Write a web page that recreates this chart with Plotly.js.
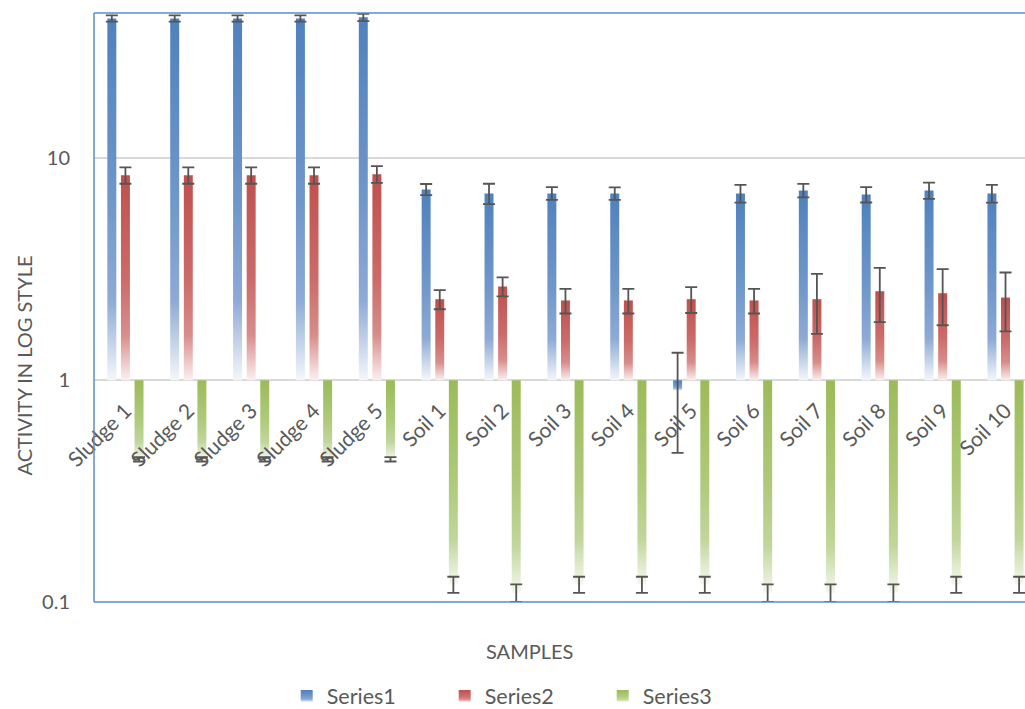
<!DOCTYPE html>
<html><head><meta charset="utf-8">
<script src="https://cdn.plot.ly/plotly-3.0.1.min.js"></script>
<style>html,body{margin:0;padding:0;background:#fff}#chart{width:1025px;height:709px}</style>
</head><body><div id="chart"></div>
<script>
const categories = ['Sludge 1','Sludge 2','Sludge 3','Sludge 4','Sludge 5','Soil 1','Soil 2','Soil 3','Soil 4','Soil 5','Soil 6','Soil 7','Soil 8','Soil 9','Soil 10'];
const series1 = [42.8, 42.8, 42.8, 42.8, 43.3, 7.25, 6.96, 6.96, 6.96, 0.9, 6.96, 7.18, 6.88, 7.18, 6.96];
const err1    = [1.35, 1.35, 1.35, 1.35, 1.65, 0.42, 0.73, 0.46, 0.45, 0.43, 0.64, 0.5, 0.55, 0.6, 0.64];
const series2 = [8.4, 8.4, 8.4, 8.4, 8.5, 2.32, 2.65, 2.29, 2.29, 2.32, 2.29, 2.32, 2.52, 2.47, 2.36];
const err2    = [0.71, 0.71, 0.71, 0.71, 0.73, 0.23, 0.26, 0.29, 0.29, 0.31, 0.29, 0.7, 0.69, 0.7, 0.7];
const series3 = [0.44, 0.44, 0.44, 0.44, 0.44, 0.12, 0.11, 0.12, 0.12, 0.12, 0.11, 0.11, 0.11, 0.12, 0.12];
const err3    = [0.01, 0.01, 0.01, 0.01, 0.01, 0.01, 0.01, 0.01, 0.01, 0.01, 0.01, 0.01, 0.01, 0.01, 0.01];
const seriesNames = ['Series1', 'Series2', 'Series3'];
const yTickVals = [0.1, 1, 10];
const yTickText = ['0.1', '1', '10'];

const baseLine = 1;
const yMin = -1, yMax = 1.656;
const colors = ['#4F81BD', '#C0504D', '#9BBB59'];
const gradStops = [
  [[0, '#4F81BD'], [0.5, '#6F97CA'], [0.78, '#8EAAD5'], [1, '#F4F7FB']],
  [[0, '#C0504D'], [0.5, '#CB6B69'], [0.78, '#D78D8B'], [1, '#FBF0F0']],
  [[0, '#9BBB59'], [0.5, '#AECA7A'], [0.78, '#C1D69C'], [1, '#F5F8EE']]
];
const textColor = '#595959';

function lengths(vals) { return vals.map(v => v - baseLine); }

const data = [series1, series2, series3];
const errs = [err1, err2, err3];
const traces = data.map((vals, i) => ({
  type: 'bar',
  name: seriesNames[i],
  x: categories,
  y: lengths(vals),
  base: baseLine,
  customdata: vals,
  hovertemplate: '%{x}: %{customdata}<extra></extra>',
  marker: { color: colors[i], line: { width: 0 } },
  error_y: { type: 'data', array: errs[i], visible: true, color: '#555555', thickness: 1.8, width: 6 }
}));

const axisPos = (0 - yMin) / (yMax - yMin);
const borderColor = '#5B8BCB';

const layout = {
  width: 1025, height: 709,
  margin: { l: 94, r: 0, t: 13, b: 107 },
  paper_bgcolor: '#ffffff', plot_bgcolor: '#ffffff',
  font: { family: 'Lato, "Open Sans", sans-serif', size: 20, color: textColor },
  barmode: 'group', bargap: 0.351, bargroupgap: 0.34,
  showlegend: true,
  legend: { orientation: 'h', xref: 'container', yref: 'container', x: 0.2797, xanchor: 'left', y: 0.0183, yanchor: 'middle',
            entrywidth: 113, entrywidthmode: 'pixels', font: { size: 21.5, color: textColor }, bgcolor: 'rgba(0,0,0,0)' },
  xaxis: { type: 'category', range: [-0.5, 14.31], anchor: 'free', position: axisPos,
           tickangle: -45, showline: false, showgrid: false, zeroline: false,
           ticks: 'outside', ticklen: 9, tickcolor: 'rgba(0,0,0,0)',
           automargin: false, tickfont: { size: 21, color: textColor } },
  yaxis: { type: 'log', range: [yMin, yMax], tickvals: yTickVals, ticktext: yTickText,
           showgrid: true, gridcolor: '#D9D9D9', gridwidth: 2, showline: false, zeroline: false,
           ticks: 'outside', ticklen: 19, tickcolor: 'rgba(0,0,0,0)', automargin: false,
           tickfont: { size: 20, color: textColor } },
  shapes: [
    { type: 'line', xref: 'paper', yref: 'paper', x0: 0, x1: 0, y0: 0, y1: 1, line: { color: borderColor, width: 1.5 } },
    { type: 'line', xref: 'paper', yref: 'paper', x0: 0, x1: 1, y0: 1, y1: 1, line: { color: borderColor, width: 1.5 } },
    { type: 'line', xref: 'paper', yref: 'paper', x0: 0, x1: 1, y0: 0, y1: 0, line: { color: borderColor, width: 1.5 } }
  ],
  annotations: [
    { text: 'ACTIVITY IN LOG STYLE', xref: 'paper', yref: 'paper', x: -0.0757, y: 0.4007,
      textangle: -90, showarrow: false, font: { size: 20, color: textColor }, xanchor: 'center', yanchor: 'middle' },
    { text: 'SAMPLES', xref: 'paper', yref: 'paper', x: 0.4683, y: -0.0832,
      showarrow: false, font: { size: 20, color: textColor }, xanchor: 'center', yanchor: 'middle' }
  ]
};

function applyGradients(gd) {
  const NS = 'http://www.w3.org/2000/svg';
  const svg = gd.querySelector('svg.main-svg');
  let defs = svg.querySelector('defs');
  if (!defs) { defs = document.createElementNS(NS, 'defs'); svg.insertBefore(defs, svg.firstChild); }
  gradStops.forEach((stops, i) => {
    const lg = document.createElementNS(NS, 'linearGradient');
    lg.setAttribute('id', 'barGrad' + i);
    lg.setAttribute('x1', '0'); lg.setAttribute('y1', '0');
    lg.setAttribute('x2', '0'); lg.setAttribute('y2', '1');
    stops.forEach(s => {
      const st = document.createElementNS(NS, 'stop');
      st.setAttribute('offset', s[0]);
      st.setAttribute('stop-color', s[1]);
      lg.appendChild(st);
    });
    defs.appendChild(lg);
  });
  gd.querySelectorAll('.barlayer .trace').forEach((tr, i) => {
    tr.querySelectorAll('.point path').forEach(p => { p.style.fill = 'url(#barGrad' + i + ')'; });
  });
  gd.querySelectorAll('.legend .traces').forEach((tr, i) => {
    tr.querySelectorAll('.legendpoints path').forEach(p => { p.style.fill = 'url(#barGrad' + i + ')'; });
  });
}

Plotly.newPlot('chart', traces, layout, { displayModeBar: false, staticPlot: true }).then(applyGradients);
</script>
</body></html>
